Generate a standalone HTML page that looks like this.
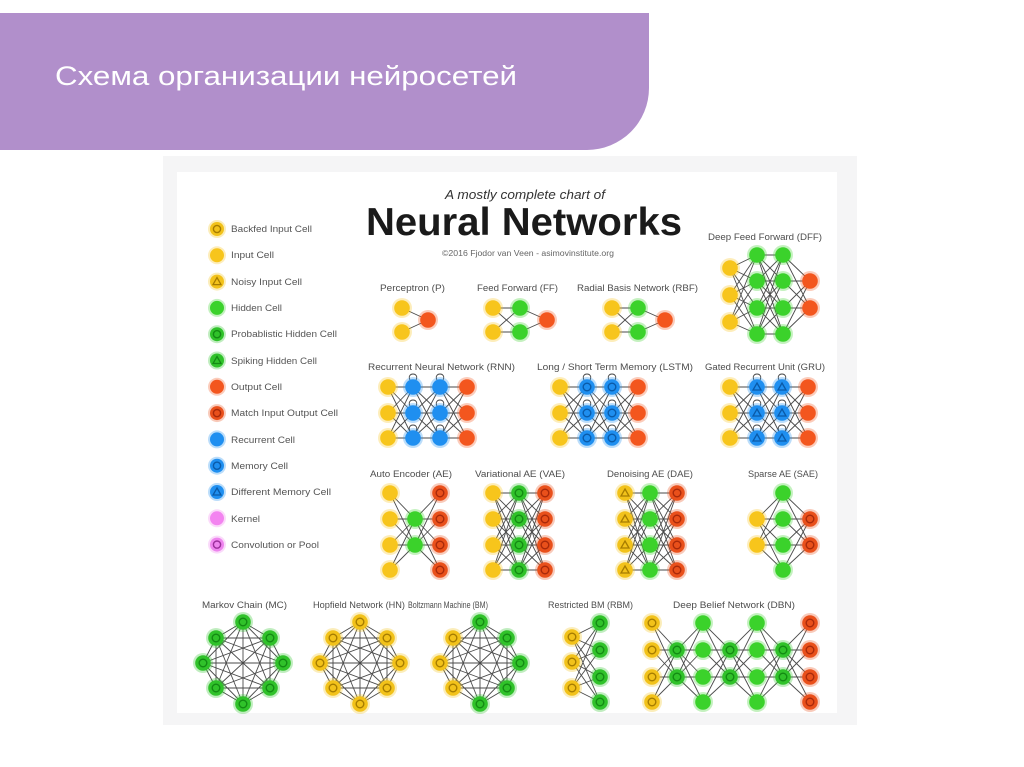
<!DOCTYPE html>
<html><head><meta charset="utf-8">
<style>
html,body{margin:0;padding:0;background:#fff;width:1024px;height:767px;overflow:hidden}
svg{display:block}
text{font-family:"Liberation Sans","DejaVu Sans",sans-serif}
</style></head><body>
<svg id="s" width="1024" height="767" viewBox="0 0 1024 767" xmlns="http://www.w3.org/2000/svg">
<path d="M0 13 H649 V88 A62 62 0 0 1 587 150 H0 Z" fill="#b18fcb"/>
<text x="55" y="85" font-size="27" fill="#ffffff" textLength="462" lengthAdjust="spacingAndGlyphs">Схема организации нейросетей</text>
<rect x="163" y="156" width="694" height="569" fill="#f5f5f6"/>
<rect x="177" y="172" width="660" height="541" fill="#ffffff"/>
<g id="edges" stroke="#4a4a4a" stroke-width="0.9" fill="none"></g>
<g id="nodes"></g>
<g fill="#222">
<text x="445" y="199" font-size="13" font-style="italic" fill="#333" textLength="160" lengthAdjust="spacingAndGlyphs">A mostly complete chart of</text>
<text x="366" y="235" font-size="39" font-weight="bold" fill="#1a1a1a" textLength="316" lengthAdjust="spacingAndGlyphs">Neural Networks</text>
<text x="442" y="256" font-size="8" fill="#666" textLength="172" lengthAdjust="spacingAndGlyphs">©2016 Fjodor van Veen - asimovinstitute.org</text>
</g>
<g font-size="9" fill="#4d4d4d">
<text x="380" y="291" textLength="65" lengthAdjust="spacingAndGlyphs">Perceptron (P)</text>
<text x="477" y="291" textLength="81" lengthAdjust="spacingAndGlyphs">Feed Forward (FF)</text>
<text x="577" y="291" textLength="121" lengthAdjust="spacingAndGlyphs">Radial Basis Network (RBF)</text>
<text x="708" y="240" textLength="114" lengthAdjust="spacingAndGlyphs">Deep Feed Forward (DFF)</text>
<text x="368" y="370" textLength="147" lengthAdjust="spacingAndGlyphs">Recurrent Neural Network (RNN)</text>
<text x="537" y="370" textLength="156" lengthAdjust="spacingAndGlyphs">Long / Short Term Memory (LSTM)</text>
<text x="705" y="370" textLength="120" lengthAdjust="spacingAndGlyphs">Gated Recurrent Unit (GRU)</text>
<text x="370" y="477" textLength="82" lengthAdjust="spacingAndGlyphs">Auto Encoder (AE)</text>
<text x="475" y="477" textLength="90" lengthAdjust="spacingAndGlyphs">Variational AE (VAE)</text>
<text x="607" y="477" textLength="86" lengthAdjust="spacingAndGlyphs">Denoising AE (DAE)</text>
<text x="748" y="477" textLength="70" lengthAdjust="spacingAndGlyphs">Sparse AE (SAE)</text>
<text x="202" y="608" textLength="85" lengthAdjust="spacingAndGlyphs">Markov Chain (MC)</text>
<text x="313" y="608" textLength="92" lengthAdjust="spacingAndGlyphs">Hopfield Network (HN)</text>
<text x="408" y="608" font-size="9" textLength="80" lengthAdjust="spacingAndGlyphs">Boltzmann Machine (BM)</text>
<text x="548" y="608" textLength="85" lengthAdjust="spacingAndGlyphs">Restricted BM (RBM)</text>
<text x="673" y="608" textLength="122" lengthAdjust="spacingAndGlyphs">Deep Belief Network (DBN)</text>
</g>
<g font-size="9" fill="#555">
<text x="231" y="232" textLength="81" lengthAdjust="spacingAndGlyphs">Backfed Input Cell</text>
<text x="231" y="258" textLength="43" lengthAdjust="spacingAndGlyphs">Input Cell</text>
<text x="231" y="285" textLength="71" lengthAdjust="spacingAndGlyphs">Noisy Input Cell</text>
<text x="231" y="311" textLength="51" lengthAdjust="spacingAndGlyphs">Hidden Cell</text>
<text x="231" y="337" textLength="106" lengthAdjust="spacingAndGlyphs">Probablistic Hidden Cell</text>
<text x="231" y="364" textLength="86" lengthAdjust="spacingAndGlyphs">Spiking Hidden Cell</text>
<text x="231" y="390" textLength="51" lengthAdjust="spacingAndGlyphs">Output Cell</text>
<text x="231" y="416" textLength="107" lengthAdjust="spacingAndGlyphs">Match Input Output Cell</text>
<text x="231" y="443" textLength="64" lengthAdjust="spacingAndGlyphs">Recurrent Cell</text>
<text x="231" y="469" textLength="57" lengthAdjust="spacingAndGlyphs">Memory Cell</text>
<text x="231" y="495" textLength="100" lengthAdjust="spacingAndGlyphs">Different Memory Cell</text>
<text x="231" y="522" textLength="29" lengthAdjust="spacingAndGlyphs">Kernel</text>
<text x="231" y="548" textLength="88" lengthAdjust="spacingAndGlyphs">Convolution or Pool</text>
</g>
</svg>
<script>
(function(){
const C={in:['#f7c51c'],bin:['#f2c21a','#a67c00'],nin:['#f2c21a','#a67c00','t'],h:['#3bd22b'],ph:['#30c22a','#138a13'],sh:['#30c22a','#138a13','t'],out:['#f3561e'],mo:['#e9501b','#a8290a'],rec:['#1f8ff0'],mem:['#1f8ff0','#0a5aa8'],dmem:['#1f8ff0','#0a5aa8','t'],ker:['#f384f0'],conv:['#ee84ee','#9b2f9b']};
const NS='http://www.w3.org/2000/svg';
function el(tag,attrs,parent){const e=document.createElementNS(NS,tag);for(const k in attrs)e.setAttribute(k,attrs[k]);parent.appendChild(e);return e;}
const E=document.getElementById('edges'),N=document.getElementById('nodes');
function node(x,y,t,r){r=r||7.8;const c=C[t];
 el('circle',{cx:x,cy:y,r:r+2.2,fill:c[0],opacity:0.3},N);
 el('circle',{cx:x,cy:y,r:r,fill:c[0]},N);
 if(c[1]){
  if(c[2]){el('path',{d:'M'+x+' '+(y-4)+'L'+(x+4)+' '+(y+3)+'L'+(x-4)+' '+(y+3)+'Z',fill:'none',stroke:c[1],'stroke-width':1.3},N);}
  else el('circle',{cx:x,cy:y,r:3.8,fill:'none',stroke:c[1],'stroke-width':1.4},N);
 }
 if(t==='rec'||t==='mem'||t==='dmem'){
  el('path',{d:'M'+(x-3)+' '+(y-7)+'C'+(x-7)+' '+(y-15)+' '+(x+7)+' '+(y-15)+' '+(x+3)+' '+(y-7)},E);
 }
}
function line(a,b){el('line',{x1:a[0],y1:a[1],x2:b[0],y2:b[1]},E);}
function layers(L){
 for(let i=0;i<L.length-1;i++)for(const y1 of L[i][1])for(const y2 of L[i+1][1])line([L[i][0],y1],[L[i+1][0],y2]);
 for(const l of L)for(const y of l[1])node(l[0],y,l[2]);
}
function ring(cx,cy,types){
 const off=[[0,-41],[27,-25],[40,0],[27,25],[0,41],[-27,25],[-40,0],[-27,-25]];
 const P=off.map(o=>[cx+o[0],cy+o[1]]);
 for(let i=0;i<8;i++)for(let j=i+1;j<8;j++)line(P[i],P[j]);
 P.forEach((p,i)=>node(p[0],p[1],types[i]));
}
['bin','in','nin','h','ph','sh','out','mo','rec','mem','dmem','ker','conv'].forEach((t,i)=>{
 const c=C[t];const x=217,y=229+26.3*i;
 el('circle',{cx:x,cy:y,r:9,fill:c[0],opacity:0.3},N);
 el('circle',{cx:x,cy:y,r:7,fill:c[0]},N);
 if(c[1]){if(c[2])el('path',{d:'M'+x+' '+(y-4)+'L'+(x+4)+' '+(y+3)+'L'+(x-4)+' '+(y+3)+'Z',fill:'none',stroke:c[1],'stroke-width':1.3},N);
 else el('circle',{cx:x,cy:y,r:3.6,fill:'none',stroke:c[1],'stroke-width':1.4},N);}
});
const two=[308,332];
layers([[402,two,'in'],[428,[320],'out']]);
layers([[493,two,'in'],[520,two,'h'],[547,[320],'out']]);
layers([[612,two,'in'],[638,two,'h'],[665,[320],'out']]);
const d4=[255,281,308,334];
layers([[730,[268,295,322],'in'],[757,d4,'h'],[783,d4,'h'],[810,[281,308],'out']]);
const r3=[387,413,438];
layers([[388,r3,'in'],[413,r3,'rec'],[440,r3,'rec'],[467,r3,'out']]);
layers([[560,r3,'in'],[587,r3,'mem'],[612,r3,'mem'],[638,r3,'out']]);
layers([[730,r3,'in'],[757,r3,'dmem'],[782,r3,'dmem'],[808,r3,'out']]);
const a4=[493,519,545,570],a2=[519,545];
layers([[390,a4,'in'],[415,a2,'h'],[440,a4,'mo']]);
layers([[493,a4,'in'],[519,a4,'ph'],[545,a4,'mo']]);
layers([[625,a4,'nin'],[650,a4,'h'],[677,a4,'mo']]);
layers([[757,a2,'in'],[783,a4,'h'],[810,a2,'mo']]);
ring(243,663,['ph','ph','ph','ph','ph','ph','ph','ph']);
ring(360,663,['bin','bin','bin','bin','bin','bin','bin','bin']);
ring(480,663,['ph','ph','ph','ph','ph','bin','bin','bin']);
const b4=[623,650,677,702],b2=[650,677];
layers([[572,[637,662,688],'bin'],[600,b4,'ph']]);
layers([[652,b4,'bin'],[677,b2,'ph'],[703,b4,'h'],[730,b2,'ph'],[757,b4,'h'],[783,b2,'ph'],[810,b4,'mo']]);
})();
</script>
</body></html>
